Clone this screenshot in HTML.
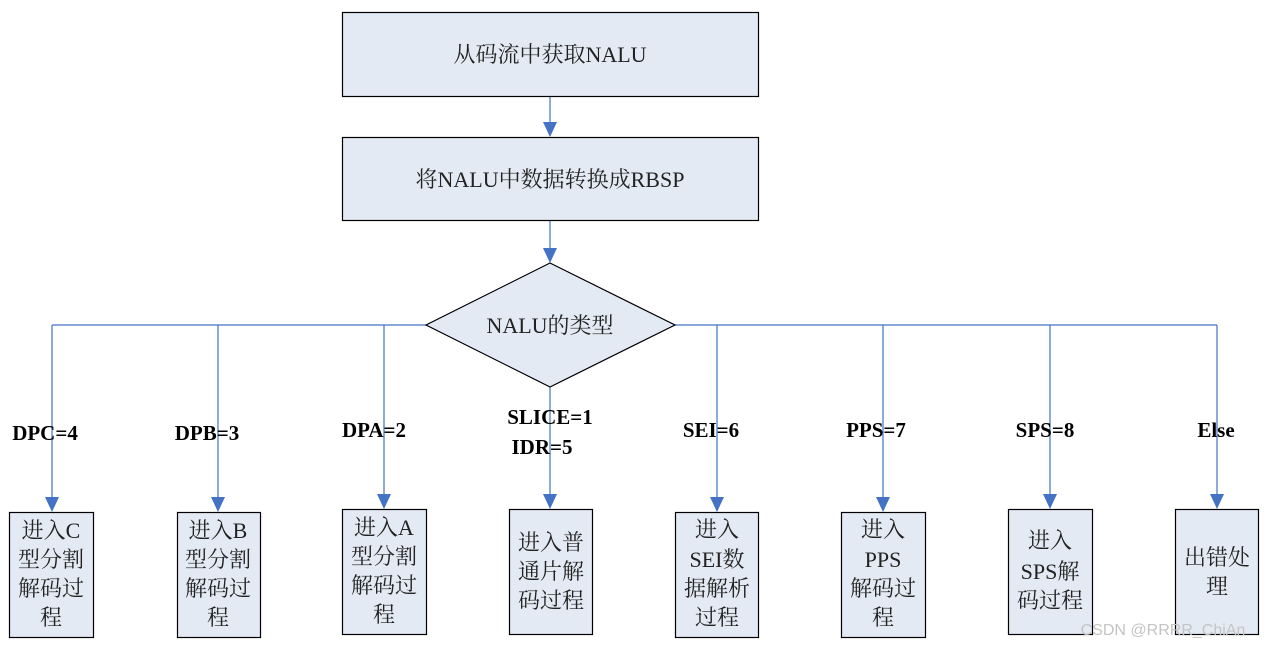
<!DOCTYPE html>
<html><head><meta charset="utf-8"><style>
html,body{margin:0;padding:0;background:#fff;}
svg{display:block;}
.b{font-family:"Liberation Serif","Noto Serif CJK SC",serif;font-weight:bold;font-size:21px;fill:#000;}
.t{font-family:"Liberation Serif","Noto Serif CJK SC",serif;font-size:22px;fill:#222;}
</style></head><body>
<svg width="1268" height="647" viewBox="0 0 1268 647" xmlns="http://www.w3.org/2000/svg">
<g stroke="#4472c4" stroke-width="1.2" fill="none">
<line x1="550" y1="96" x2="550" y2="122"/>
<line x1="550" y1="220" x2="550" y2="248"/>
<line x1="52" y1="325" x2="426" y2="325"/>
<line x1="675" y1="325" x2="1217" y2="325"/>
<line x1="52" y1="325" x2="52" y2="497"/>
<line x1="218" y1="325" x2="218" y2="497"/>
<line x1="384" y1="325" x2="384" y2="494"/>
<line x1="550" y1="387" x2="550" y2="494"/>
<line x1="717" y1="325" x2="717" y2="497"/>
<line x1="883" y1="325" x2="883" y2="497"/>
<line x1="1050" y1="325" x2="1050" y2="494"/>
<line x1="1217" y1="325" x2="1217" y2="494"/>
</g>
<g fill="#4472c4">
<path d="M543,122 L557,122 L550,137 Z"/>
<path d="M543,248 L557,248 L550,263 Z"/>
<path d="M45,497 L59,497 L52,512 Z"/>
<path d="M211,497 L225,497 L218,512 Z"/>
<path d="M377,494 L391,494 L384,509 Z"/>
<path d="M543,494 L557,494 L550,509 Z"/>
<path d="M710,497 L724,497 L717,512 Z"/>
<path d="M876,497 L890,497 L883,512 Z"/>
<path d="M1043,494 L1057,494 L1050,509 Z"/>
<path d="M1210,494 L1224,494 L1217,509 Z"/>
</g>
<g fill="#e4eaf4" stroke="#000" stroke-width="1.2">
<rect x="342.5" y="12.5" width="416" height="84"/>
<rect x="342.5" y="137.5" width="416" height="83"/>
<path d="M550,263 L675,325 L550,387 L426,325 Z"/>
<rect x="9.5" y="512.5" width="84" height="125"/>
<rect x="177.5" y="512.5" width="83" height="125"/>
<rect x="342.5" y="509.5" width="84" height="125"/>
<rect x="509.5" y="509.5" width="83" height="125"/>
<rect x="675.5" y="512.5" width="83" height="125"/>
<rect x="841.5" y="512.5" width="84" height="125"/>
<rect x="1008.5" y="509.5" width="84" height="125"/>
<rect x="1175.5" y="509.5" width="83" height="125"/>
</g>
<g class="t" text-anchor="middle">
<text x="550" y="62">从码流中获取NALU</text>
<text x="550" y="187">将NALU中数据转换成RBSP</text>
<text x="550" y="333">NALU的类型</text>
<text x="51" y="538">进入C</text><text x="51" y="567">型分割</text><text x="51" y="596">解码过</text><text x="51" y="625">程</text>
<text x="218" y="538">进入B</text><text x="218" y="567">型分割</text><text x="218" y="596">解码过</text><text x="218" y="625">程</text>
<text x="384" y="535">进入A</text><text x="384" y="564">型分割</text><text x="384" y="593">解码过</text><text x="384" y="622">程</text>
<text x="551" y="550">进入普</text><text x="551" y="579">通片解</text><text x="551" y="608">码过程</text>
<text x="717" y="537">进入</text><text x="717" y="567">SEI数</text><text x="717" y="596">据解析</text><text x="717" y="625">过程</text>
<text x="883" y="537">进入</text><text x="883" y="567">PPS</text><text x="883" y="596">解码过</text><text x="883" y="625">程</text>
<text x="1050" y="548">进入</text><text x="1050" y="579">SPS解</text><text x="1050" y="608">码过程</text>
<text x="1217" y="565">出错处</text><text x="1217" y="594">理</text>
</g>
<g class="b" text-anchor="middle">
<text x="45" y="440">DPC=4</text>
<text x="207" y="440">DPB=3</text>
<text x="374" y="437">DPA=2</text>
<text x="550" y="424">SLICE=1</text>
<text x="542" y="454">IDR=5</text>
<text x="711" y="437">SEI=6</text>
<text x="876" y="437">PPS=7</text>
<text x="1045" y="437">SPS=8</text>
<text x="1216" y="437">Else</text>
</g>
<text x="1163" y="635" text-anchor="middle" font-family="Liberation Sans,sans-serif" font-size="16" fill="#c4c4c4">CSDN @RRRR_ChiAn</text>
</svg>
</body></html>
